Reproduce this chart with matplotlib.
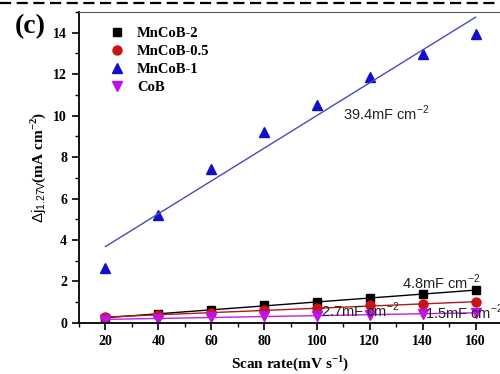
import numpy as np
import matplotlib
matplotlib.use("Agg")
import matplotlib.pyplot as plt
from matplotlib.lines import Line2D

scan_rate = [20, 40, 60, 80, 100, 120, 140, 160]
mncob_2 = [0.25, 0.42, 0.65, 0.85, 1.02, 1.19, 1.38, 1.59]
mncob_05 = [0.27, 0.38, 0.50, 0.62, 0.74, 0.85, 0.91, 0.99]
mncob_1 = [2.64, 5.19, 7.40, 9.20, 10.50, 11.85, 12.98, 13.94]
cob = [0.15, 0.20, 0.30, 0.33, 0.36, 0.40, 0.45, 0.47]

labels = ["MnCoB-2", "MnCoB-0.5", "MnCoB-1", "CoB"]
fit_labels = ["4.8mF cm$^{\\mathregular{-2}}$", "2.7mF cm$^{\\mathregular{-2}}$",
              "39.4mF cm$^{\\mathregular{-2}}$", "1.5mF cm$^{\\mathregular{-2}}$"]

plt.rcParams["font.family"] = "Liberation Serif"
plt.rcParams["mathtext.fontset"] = "custom"
plt.rcParams["mathtext.sf"] = "Liberation Sans"
plt.rcParams["mathtext.rm"] = "Liberation Serif"

fig = plt.figure(figsize=(5, 3.74), dpi=100)
ax = fig.add_axes([0.158, 0.1364, 0.846, 0.832])

x = np.array(scan_rate)
series = [
    (mncob_2, "s", "black", "black", 6),
    (mncob_05, "o", "#cc1414", "#b01a1a", 6.5),
    (mncob_1, "^", "#1010cc", "#4a4ab8", 7),
    (cob, "v", "#c010e8", "#c020e0", 7),
]
for (y, m, c, lc, ms), lab in zip(series, labels):
    ax.plot(x, y, ls="none", marker=m, color=c, ms=ms, label=lab)
    k, b = np.polyfit(x, y, 1)
    ax.plot(x, k * x + b, color=lc, lw=1)

txt = dict(family="Liberation Sans", fontweight="normal", fontsize=10.5, color="#222222",
           va="center")
ax.text(110, 10.1, fit_labels[2], **txt)
ax.text(132, 1.97, fit_labels[0], **txt)
ax.text(101.5, 0.62, fit_labels[1], **txt)
ax.text(141, 0.5, fit_labels[3], **txt)

ax.set_xlim(10, 170)
ax.set_ylim(0, 15)
ax.set_xticks(range(20, 161, 20))
ax.set_xticks(range(10, 171, 10), minor=True)
ax.set_yticks(range(0, 15, 2))
ax.set_yticks(range(0, 16, 1), minor=True)
ax.tick_params(which="major", direction="out", length=5, width=1.2, labelsize=10)
ax.tick_params(which="minor", direction="out", length=3, width=1)
for lab in ax.get_xticklabels() + ax.get_yticklabels():
    lab.set_fontweight("bold")
ax.spines["left"].set_linewidth(1.3)
ax.spines["bottom"].set_linewidth(1.3)
ax.spines["top"].set_color("#555555")

ax.set_xlabel("Scan rate(mV s$^{\\mathregular{-1}}$)", fontsize=11, fontweight="bold", labelpad=4)
ax.set_ylabel(r"$\mathsf{\Delta j_{1.27V}}$(mA cm$^{\mathregular{-2}}$)", fontsize=11,
              fontweight="bold")

leg = ax.legend(loc="upper left", frameon=False, handletextpad=0.4,
                borderaxespad=0.6, labelspacing=0.33, bbox_to_anchor=(0.02, 1.0),
                prop=dict(family="Liberation Serif", weight="bold", size=10.5))

fig.text(0.03, 0.928, "(c)", fontsize=20, fontweight="bold", va="center")
fig.add_artist(Line2D([0, 1], [0.992, 0.992], transform=fig.transFigure,
                      color="black", lw=1.6, ls=(0, (5, 2.5))))

fig.savefig("out.png", dpi=100)
